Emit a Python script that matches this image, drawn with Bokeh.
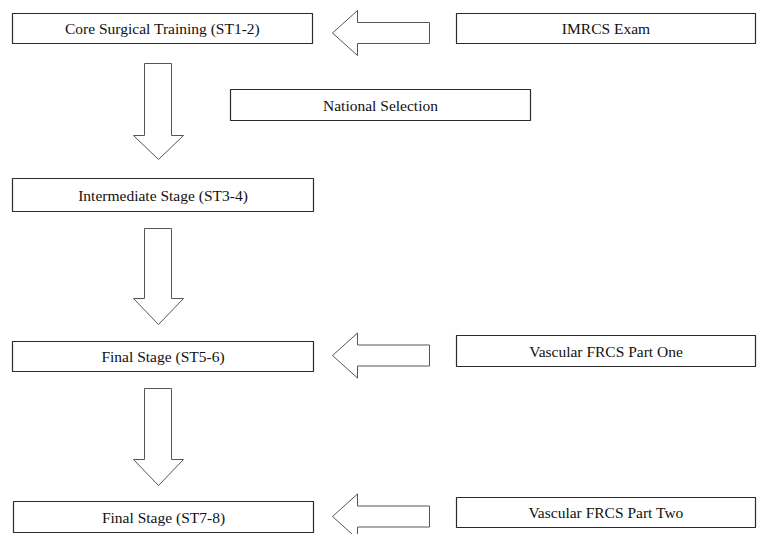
from bokeh.plotting import figure
from bokeh.models import Range1d
from bokeh.core.properties import value
from bokeh.embed import file_html
from bokeh.resources import INLINE

# Stage labels (left column) and exam/selection labels (right column)
stage_labels = ["Core Surgical Training (ST1-2)", "Intermediate Stage (ST3-4)",
                "Final Stage (ST5-6)", "Final Stage (ST7-8)"]
side_labels = ["IMRCS Exam", "National Selection", "Vascular FRCS Part One", "Vascular FRCS Part Two"]

# layout (pixel-like units, y downward)
stage_top = [13, 178, 341, 501]
stage_bot = [43, 211, 371, 532]
stage_left = [12, 12, 12, 13]
stage_right = [312, 313, 313, 313]

side_left = [456, 230, 456, 456]
side_right = [755, 530, 755, 755]
side_top = [13, 89, 335, 497]
side_bot = [43, 120, 366, 527]

# down arrows: (shaft top, head start, tip)
down_arrows = [(63, 135, 159), (228, 298, 324), (388, 459, 485)]
# left arrows: centre y
left_arrow_y = [32.5, 355, 516]

W, H = 762, 534
p = figure(width=W, height=H, output_backend="svg", toolbar_location=None,
           x_range=Range1d(0, W), y_range=Range1d(H, 0),
           min_border=0, outline_line_color=None)
p.axis.visible = False
p.grid.visible = False
p.background_fill_color = "white"
p.border_fill_color = "white"

box_color = "#2a2a2a"
arrow_color = "#555555"
font = value("Liberation Serif")

# boxes
p.quad(left=stage_left + side_left, right=stage_right + side_right,
       top=stage_top + side_top, bottom=stage_bot + side_bot,
       fill_color="white", line_color=box_color, line_width=1.2)

# texts
xs = [(l + r) / 2 for l, r in zip(stage_left, stage_right)] + \
     [(l + r) / 2 for l, r in zip(side_left, side_right)]
ys = [(t + b) / 2 for t, b in zip(stage_top, stage_bot)] + \
     [(t + b) / 2 for t, b in zip(side_top, side_bot)]
p.text(x=xs, y=ys, text=stage_labels + side_labels, text_font=font,
       text_font_size="15.5px", text_align="center", text_baseline="middle",
       text_color="#111111")

# down arrows
sx0, sx1, hx0, hx1, cx = 144, 171, 133, 183, 158
dxs, dys = [], []
for top, hs, tip in down_arrows:
    dxs.append([sx0, sx1, sx1, hx1, cx, hx0, sx0])
    dys.append([top, top, hs, hs, tip, hs, hs])
# left arrows
tipx, hbx, endx, sh, hh = 332, 357, 429, 10.5, 22.5
for cy in left_arrow_y:
    dxs.append([tipx, hbx, hbx, endx, endx, hbx, hbx])
    dys.append([cy, cy - hh, cy - sh, cy - sh, cy + sh, cy + sh, cy + hh])
p.patches(dxs, dys, fill_color="white", line_color=arrow_color, line_width=1)

open("out.html", "w").write(file_html(p, INLINE))
